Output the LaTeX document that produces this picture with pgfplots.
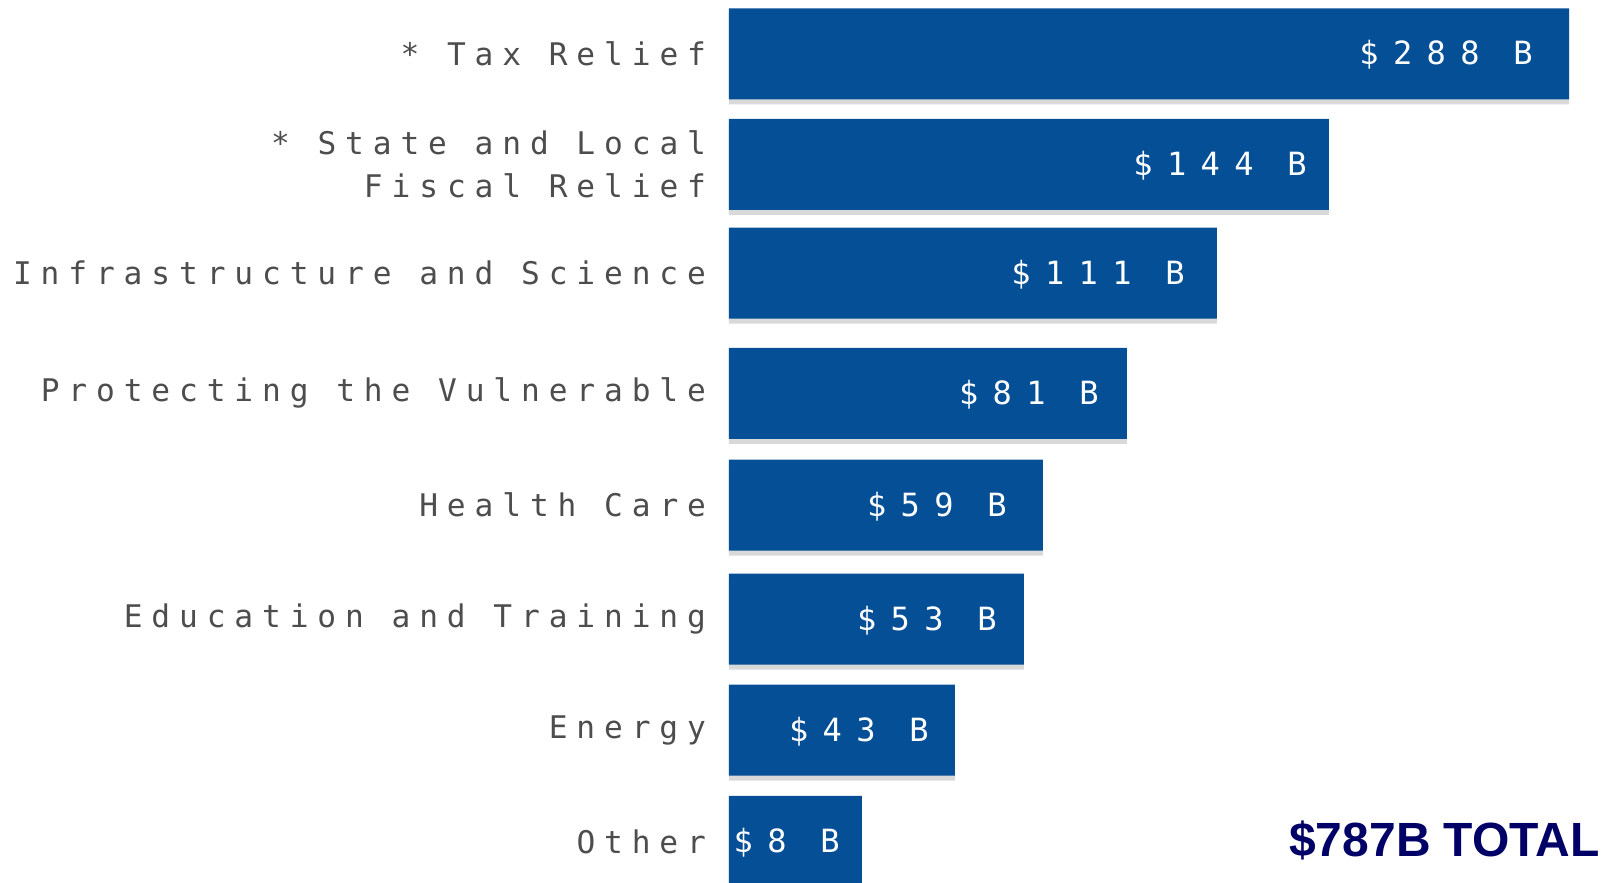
\documentclass[border=0pt]{standalone}
\usepackage{pgfplots}
\pgfplotsset{compat=1.18}
\usepackage{fontspec}
\newfontfamily\pixfont[LetterSpace=28.5]{DejaVu Sans Mono}
\newfontfamily\valfont[LetterSpace=45]{DejaVu Sans Mono}
\newfontfamily\totfont{Liberation Sans}
\definecolor{barblue}{HTML}{054F97}
\definecolor{shadowgray}{HTML}{D9D9D9}
\definecolor{labgray}{HTML}{4D4D4D}
\definecolor{totnavy}{HTML}{000066}
\begin{document}
\begin{tikzpicture}
\begin{axis}[
  scale only axis,
  width=438.5pt, height=441.5pt,
  xmin=0, xmax=877, ymin=0, ymax=883,
  y dir=reverse,
  clip=true,
  axis line style={draw=none},
  major tick length=0pt,
  xtick=\empty,
  ytick={53.8,164.4,273,393.3,505,619.1,730.2,841.4},
  yticklabels={{* Tax Relief},{* State and Local\\Fiscal Relief},{Infrastructure and Science},{Protecting the Vulnerable},{Health Care},{Education and Training},{Energy},{Other}},
  yticklabel style={font=\pixfont\fontsize{15.6}{21.5}\selectfont, text=labgray, align=right, inner sep=0pt, xshift=-11.3pt},
  bar width=91,
]
% shadows
\addplot[xbar, bar shift=0pt, fill=shadowgray, draw=none] coordinates {
(840,58.8) (600,169.4) (488,278) (398,398.3) (314,510) (295,624.1) (226,735.2) (133,846.4)};
% bars
\addplot[xbar, bar shift=0pt, fill=barblue, draw=none] coordinates {
(840,53.8) (600,164.4) (488,273) (398,393.3) (314,505) (295,619.1) (226,730.2) (133,841.4)};
% value labels
\addplot[draw=none, mark=none, point meta=explicit symbolic,
  nodes near coords,
  every node near coord/.append style={anchor=east, inner sep=0pt, text=white, font=\valfont\fontsize{16}{16}\selectfont}]
  coordinates {
(804,55) [\$288 B]
(578,165.6) [\$144 B]
(456,274.2) [\$111 B]
(370,394.5) [\$81 B]
(278,506.2) [\$59 B]
(268,620.3) [\$53 B]
(200,731.4) [\$43 B]
(111,842.6) [\$8 B]};
\node[anchor=base east, inner sep=0pt, text=totnavy, font=\totfont\bfseries\fontsize{24}{24}\selectfont] at (axis cs:871,856) {\$787B TOTAL};
\coordinate (tl) at (axis cs:-729,0);
\coordinate (br) at (axis cs:877,883);
\end{axis}
\pgfresetboundingbox
\path[use as bounding box] (tl) rectangle (br);
\end{tikzpicture}
\end{document}
